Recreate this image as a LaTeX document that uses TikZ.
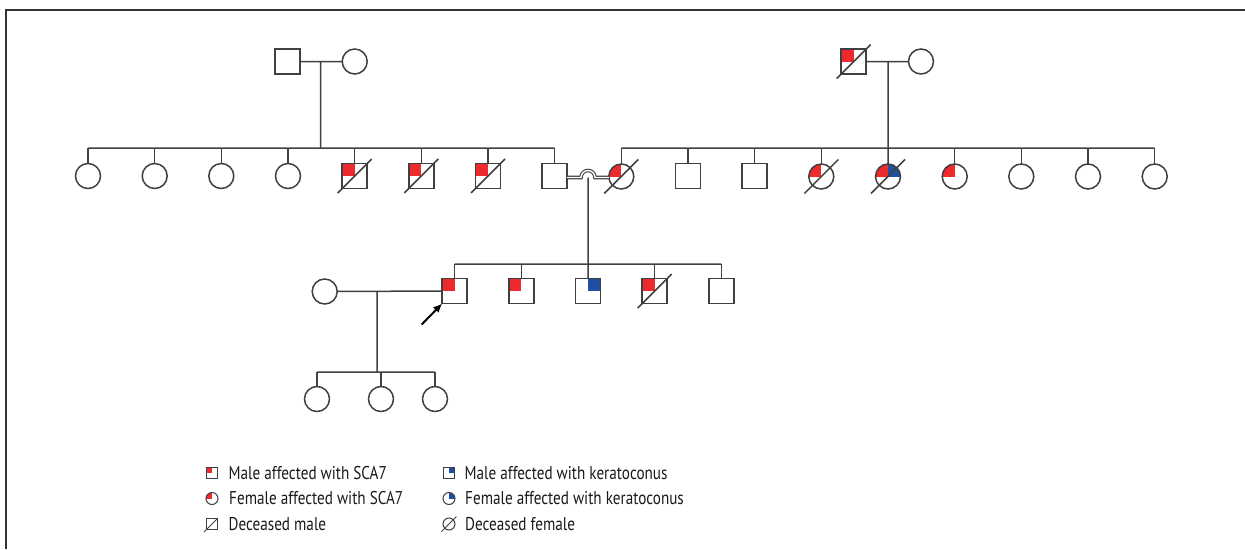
\documentclass[tikz,border=0pt]{standalone}
\usepackage{fontspec}
\setmainfont{PT Sans}[FakeStretch=0.82]
\usetikzlibrary{arrows.meta,positioning}
\usepackage{xcolor}

\definecolor{linegray}{HTML}{404040}
\definecolor{scared}{HTML}{EE2B2C}
\definecolor{keratoblue}{HTML}{1F4FA0}

% slash through a deceased person
\newcommand{\deceased}[2][17]{%
	\draw[slash] ([shift={(-#1,#1)}]#2.center) -- ([shift={(#1,-#1)}]#2.center);}

\begin{document}
\begin{tikzpicture}[x=1pt,y=-1pt]
\tikzstyle{male} = [
	shape=rectangle,
	draw=linegray, %border of the person
	fill=white,
	line width=1.5pt,
	outer sep=0pt,
	minimum size=25pt
];
\tikzstyle{female} = [
	shape=circle,
	draw=linegray,
	fill=white,
	line width=1.5pt,
	outer sep=0pt,
	minimum size=25pt
];
\tikzstyle{sca7} = [path picture={
	\fill[scared] (path picture bounding box.north west) rectangle (path picture bounding box.center);}];
\tikzstyle{kerato} = [path picture={
	\fill[keratoblue] (path picture bounding box.north east) rectangle (path picture bounding box.center);}];
\tikzstyle{both} = [path picture={
	\fill[scared] (path picture bounding box.north west) rectangle (path picture bounding box.center);
	\fill[keratoblue] (path picture bounding box.north east) rectangle (path picture bounding box.center);}];
\tikzstyle{line} = [draw=linegray, line width=1.5pt];
\tikzstyle{slash} = [draw=linegray, line width=1.5pt];
\tikzstyle{marry} = [draw=linegray, double=white, double distance=1.4pt, line width=1.1pt];
\tikzstyle{lmale} = [male, minimum size=11pt, line width=1pt];
\tikzstyle{lfemale} = [female, minimum size=12pt, line width=1pt];
\tikzstyle{legtext} = [inner sep=0pt, text=black!90, font=\fontsize{18.5}{22}\selectfont];

\useasboundingbox (0,0) rectangle (1245,549);
\draw[draw=linegray!80!black, line width=1.5pt] (6,549) -- (6,10) -- (1245,10);

%first generation
\node[male] (Ia) at (287.5,61.5) {};
\node[female] (Ib) at (354.7,61.5) {};
\node[male,sca7] (Ic) at (853.7,61.5) {};
\node[female] (Id) at (921,61.5) {};
\coordinate (Iab) at (320.7,61.5);
\coordinate (Icd) at (888,61.5);

%second generation
\node[female] (IIa) at (88,176) {};
\node[female] (IIb) at (154.7,176) {};
\node[female] (IIc) at (221.3,176) {};
\node[female] (IId) at (288,176) {};
\node[male,sca7] (IIe) at (354.7,176) {};
\node[male,sca7] (IIf) at (421.3,176) {};
\node[male,sca7] (IIg) at (488,176) {};
\node[male] (IIh) at (554.7,176) {};
\node[female,sca7] (IIi) at (621.3,176.5) {};
\node[male] (IIj) at (688,176) {};
\node[male] (IIk) at (754.7,176) {};
\node[female,sca7] (IIl) at (821.3,176.5) {};
\node[female,both] (IIm) at (888,176.5) {};
\node[female,sca7] (IIn) at (954.7,176.5) {};
\node[female] (IIo) at (1021.3,176.5) {};
\node[female] (IIp) at (1088,176.5) {};
\node[female] (IIq) at (1154.7,176.5) {};
\coordinate (IIleft) at (88,148);
\coordinate (IIright) at (1154.7,148);
\coordinate (IIhump) at (588,177.5);

%third generation
\node[female] (IIIw) at (324.7,291.5) {};
\node[male,sca7] (IIIa) at (454.7,291) {};
\node[male,sca7] (IIIb) at (521.3,291) {};
\node[male,kerato] (IIIc) at (588,291) {};
\node[male,sca7] (IIId) at (654.7,291) {};
\node[male] (IIIe) at (721.3,291) {};
\coordinate (IIIwa) at (377,291.5);
\coordinate (IIIsib) at (454.7,264);
\coordinate (proband) at (421.7,324.5);

%fourth generation
\node[female] (IVa) at (317,399) {};
\node[female] (IVb) at (381,399) {};
\node[female] (IVc) at (435,399) {};
\coordinate (IVsib) at (317,372);

%marriages and descent lines
\draw[line]
	(Ia) -- (Ib)
	(Ic) -- (Id)
	(Iab) -- (Iab |- IIleft)
	(Icd) -- (IIm)
	(IIleft) -- (IIh.north |- IIleft)
	(IIi.north |- IIright) -- (IIright)
	(IIIw) -- (IIIa)
	(IIIwa) -- (IIIwa |- IVsib)
	(IVsib) -- (IVc.north |- IVsib)
	(IIhump) -- (IIIc)
	(IIIsib) -- (IIIe.north |- IIIsib)
;
\foreach \n in {IIa,IIb,IIc,IId,IIe,IIf,IIg,IIh}
	\draw[line] (\n) -- (\n.north |- IIleft);
\foreach \n in {IIi,IIj,IIk,IIl,IIn,IIo,IIp,IIq}
	\draw[line] (\n) -- (\n.north |- IIright);
\foreach \n in {IIIa,IIIb,IIId,IIIe}
	\draw[line] (\n) -- (\n.north |- IIIsib);
\foreach \n in {IVa,IVb,IVc}
	\draw[line] (\n) -- (\n.north |- IVsib);

% couple line with a hump over the descent line
\draw[marry] (IIh.east |- IIhump) -- ([xshift=-7pt]IIhump)
	arc[start angle=180, end angle=0, radius=7pt] -- (IIi.west |- IIhump);

%deceased
\deceased{Ic}
\deceased{IIe}
\deceased{IIf}
\deceased{IIg}
\deceased{IIi}
\deceased{IIl}
\deceased{IIm}
\deceased{IIId}

\draw[-{Latex[length=9pt,width=8pt]}, line width=2pt, black] (proband) -- (IIIa.south west);

%legend
\node[lmale,sca7] (l1) at (212,473) {};
\node[lfemale,sca7] (l2) at (212,498.5) {};
\node[lmale] (l3) at (212,524) {};
\node[lmale,kerato] (l4) at (449,473) {};
\node[lfemale,kerato] (l5) at (449,498.5) {};
\node[lfemale] (l6) at (449,524) {};
\draw[line, line width=1pt] ([shift={(-8,8)}]l3.center) -- ([shift={(5.5,-5.5)}]l3.center);
\draw[line, line width=1pt] ([shift={(-7.5,7.5)}]l6.center) -- ([shift={(7.5,-7.5)}]l6.center);
\node[legtext, right=11pt of l1] (t1) {Male affected with SCA7};
\node[legtext, right=11pt of l2] (t2) {Female affected with SCA7};
\node[legtext, right=11pt of l3] (t3) {Deceased male};
\node[legtext, right=10pt of l4] (t4) {Male affected with keratoconus};
\node[legtext, right=10pt of l5] (t5) {Female affected with keratoconus};
\node[legtext, right=10pt of l6] (t6) {Deceased female};
\end{tikzpicture}
\end{document}
